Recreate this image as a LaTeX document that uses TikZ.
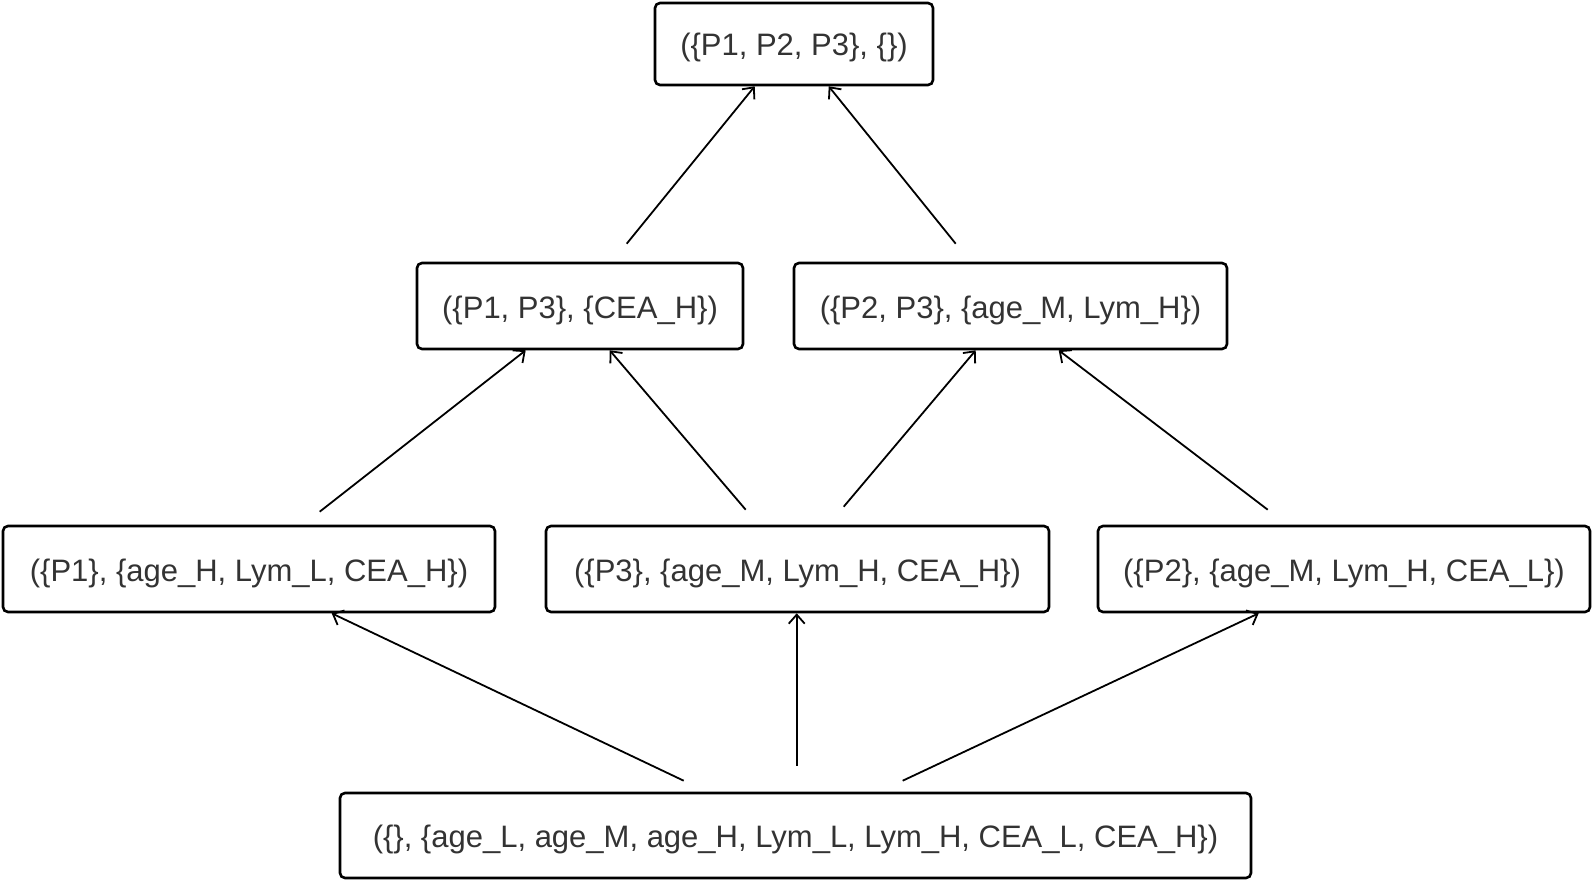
\documentclass[tikz,border=0pt]{standalone}
\usepackage{fontspec}
\setmainfont{Liberation Sans}
\usetikzlibrary{arrows.meta}
\begin{document}
\begin{tikzpicture}[x=1pt,y=-1pt,
  box/.style={draw=black, line width=2.6pt, rounded corners=5pt, fill=white,
    inner sep=0pt, text=black!80, text height=28pt, text depth=4pt,
    font=\fontsize{31}{36}\selectfont},
  conn/.style={line width=1.8pt, -{Straight Barb[length=9pt,width=16pt,line width=1.8pt]}}]
\useasboundingbox (0,0) rectangle (1593,880);
\node[box, minimum width=278pt, minimum height=82pt] (T) at (794,44) {(\{P1, P2, P3\}, \{\})};
\node[box, minimum width=326pt, minimum height=86pt] (ML) at (580,306) {(\{P1, P3\}, \{CEA\_H\})};
\node[box, minimum width=433pt, minimum height=86pt] (MR) at (1010.5,306) {(\{P2, P3\}, \{age\_M, Lym\_H\})};
\node[box, minimum width=492pt, minimum height=86pt] (A) at (249,569) {(\{P1\}, \{age\_H, Lym\_L, CEA\_H\})};
\node[box, minimum width=503pt, minimum height=86pt] (B) at (797.5,569) {(\{P3\}, \{age\_M, Lym\_H, CEA\_H\})};
\node[box, minimum width=492pt, minimum height=86pt] (C) at (1344,569) {(\{P2\}, \{age\_M, Lym\_H, CEA\_L\})};
\node[box, minimum width=911pt, minimum height=85pt] (D) at (795.5,835.5) {(\{\}, \{age\_L, age\_M, age\_H, Lym\_L, Lym\_H, CEA\_L, CEA\_H\})};
% start points
\coordinate (s1) at ([xshift=211pt,yshift=18pt]ML.north west);
\coordinate (s2) at ([xshift=163pt,yshift=18pt]MR.north west);
\coordinate (s3) at ([xshift=318pt,yshift=13pt]A.north west);
\coordinate (s4) at ([xshift=201pt,yshift=15pt]B.north west);
\coordinate (s5) at ([xshift=299pt,yshift=18pt]B.north west);
\coordinate (s6) at ([xshift=171pt,yshift=15pt]C.north west);
\coordinate (s7) at ([xshift=345pt,yshift=11pt]D.north west);
\coordinate (s8) at ([xshift=458pt,yshift=26pt]D.north west);
\coordinate (s9) at ([xshift=564pt,yshift=11pt]D.north west);
% connectors
\draw[conn] (s1) -- ([xshift=101pt]T.south west);
\draw[conn] (s2) -- ([xshift=175pt]T.south west);
\draw[conn] (s3) -- ([xshift=110pt]ML.south west);
\draw[conn] (s4) -- ([xshift=194pt]ML.south west);
\draw[conn] (s5) -- ([xshift=183pt]MR.south west);
\draw[conn] (s6) -- ([xshift=266pt]MR.south west);
\draw[conn] (s7) -- ([xshift=330pt]A.south west);
\draw[conn] (s8) -- ([xshift=252pt]B.south west);
\draw[conn] (s9) -- ([xshift=162pt]C.south west);
\end{tikzpicture}
\end{document}
